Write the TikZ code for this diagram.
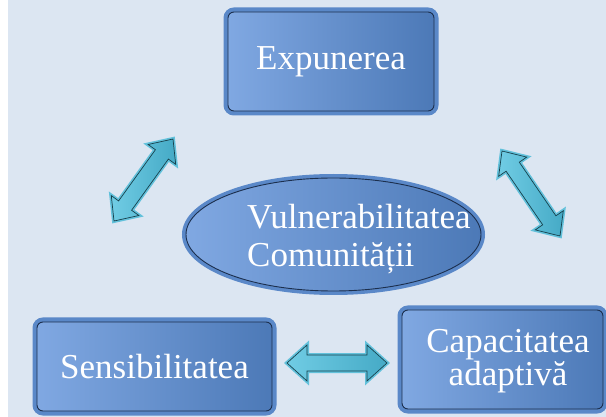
\documentclass[tikz,border=0pt]{standalone}
\usepackage{fontspec}
\setmainfont{Liberation Serif}
\usetikzlibrary{shapes.geometric}
\usetikzlibrary{calc}

\definecolor{bgblue}{HTML}{DCE6F2}
\definecolor{boxlight}{HTML}{80A8E2}
\definecolor{boxdark}{HTML}{4C79B7}
\definecolor{boxrim}{HTML}{5A88C8}
\definecolor{boxline}{HTML}{1C2F4D}
\definecolor{arrowlight}{HTML}{70CCE4}
\definecolor{arrowdark}{HTML}{45AAC6}
\definecolor{arrowrim}{HTML}{62C1DB}
\definecolor{arrowline}{HTML}{17414D}

\begin{document}
\begin{tikzpicture}[x=1pt, y=-1pt,
    boxnode/.style = {rectangle, rounded corners=6pt, inner sep=0pt,
        draw=boxline, line width=0.9pt, left color=boxlight, right color=boxdark,
        text=white, font=\fontsize{35}{30}\selectfont, align=center,
        preaction={draw=boxrim, line width=9pt}},
    ovalnode/.style = {ellipse, inner sep=0pt, minimum width=295pt, minimum height=113pt,
        draw=boxline, line width=0.9pt, left color=boxlight, right color=boxdark,
        preaction={draw=boxrim, line width=8pt}},
    lbl/.style = {text=white, font=\fontsize{35}{38}\selectfont, inner sep=0pt},
    bidir/.style n args={3}{
        preaction={draw=arrowrim, line width=4pt, line join=miter},
        left color=arrowlight, right color=arrowdark,
        draw=arrowline, line width=0.7pt, line join=miter,
        to path={
            -- ($(\tikztostart)!#1!(\tikztotarget)!#2!90:(\tikztotarget)$)
            -- ($(\tikztostart)!#1!(\tikztotarget)!#3!90:(\tikztotarget)$)
            -- ($(\tikztotarget)!#1!(\tikztostart)!#3!-90:(\tikztostart)$)
            -- ($(\tikztotarget)!#1!(\tikztostart)!#2!-90:(\tikztostart)$)
            -- (\tikztotarget)
            -- ($(\tikztotarget)!#1!(\tikztostart)!#2!90:(\tikztostart)$)
            -- ($(\tikztotarget)!#1!(\tikztostart)!#3!90:(\tikztostart)$)
            -- ($(\tikztostart)!#1!(\tikztotarget)!#3!-90:(\tikztotarget)$)
            -- ($(\tikztostart)!#1!(\tikztotarget)!#2!-90:(\tikztotarget)$)
            -- cycle}}]

    \useasboundingbox (0,0) rectangle (606,417);
    \fill[white] (0,0) rectangle (606,417);
    \fill[bgblue] (8,0) rectangle (606,417);

    \node[boxnode, minimum width=206pt, minimum height=99pt] (expunerea) at (331,61.5) {Expunerea};
    \node[boxnode, minimum width=235pt, minimum height=89pt] (sensib) at (154.5,366.5) {Sensibilitatea};
    \node[boxnode, minimum width=201pt, minimum height=99pt] (capacit) at (502.5,359.5) {};
    \node[lbl, align=center, anchor=base, font=\fontsize{35}{30}\selectfont] (capacittxt) at (508,385) {Capacitatea\\adaptivă};

    \node[ovalnode] (vuln) at (333.5,234.5) {};
    \node[lbl, align=left, anchor=base west] (vulntxt) at (247,266) {Vulnerabilitatea\\Comunității};

    \coordinate (la1) at (114,221);
    \coordinate (la2) at (173,139);
    \coordinate (ra1) at (502,151);
    \coordinate (ra2) at (560,236);
    \coordinate (ba1) at (287,363);
    \coordinate (ba2) at (387,363);

    \draw[bidir={19pt}{17pt}{8pt}] (la1) to (la2);
    \draw[bidir={19pt}{17pt}{8pt}] (ra1) to (ra2);
    \draw[bidir={20pt}{18pt}{8pt}] (ba1) to (ba2);

\end{tikzpicture}
\end{document}
